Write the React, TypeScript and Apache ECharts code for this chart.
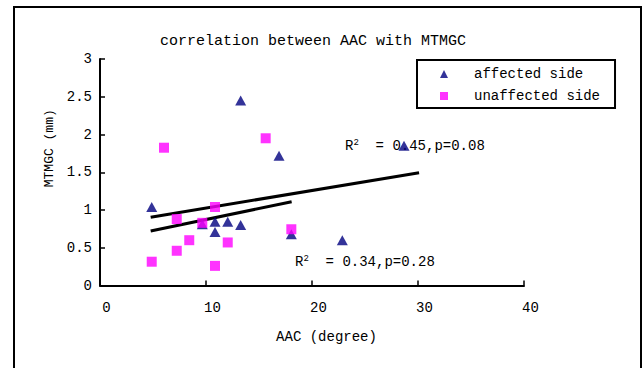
import React, { useEffect, useRef } from "react";
import * as echarts from "echarts";

const titleText = "correlation between AAC with MTMGC";
const xAxisName = "AAC (degree)";
const yAxisName = "MTMGC (mm)";
const seriesNames = ["affected side", "unaffected side"];

const affectedX = [4.88, 9.65, 10.85, 10.85, 12.05, 13.27, 13.27, 16.89, 18.05, 22.86, 28.68];
const affectedY = [1.04, 0.81, 0.845, 0.71, 0.845, 0.8, 2.45, 1.72, 0.68, 0.6, 1.85];
const unaffectedX = [6.04, 15.63, 10.85, 7.24, 9.65, 8.42, 7.24, 12.05, 4.88, 10.85, 18.05];
const unaffectedY = [1.825, 1.95, 1.04, 0.88, 0.83, 0.6, 0.46, 0.57, 0.315, 0.26, 0.745];

// regression line end points
const affectedFitX = [4.78, 30.1];
const affectedFitY = [0.903, 1.494];
const unaffectedFitX = [4.78, 18.08];
const unaffectedFitY = [0.722, 1.11];

const statR2 = ["0.45", "0.34"];
const statP = ["0.08", "0.28"];

const xMin = 0, xMax = 40, xInterval = 10;
const yMin = 0, yMax = 3, yInterval = 0.5;

const FONT = "'Liberation Mono', 'DejaVu Sans Mono', monospace";

const zip = (xs: number[], ys: number[]) => xs.map((x, i) => [x, ys[i]]);

const annotation = (i: number, x: number, y: number) => ({
  type: "text",
  x,
  y,
  z: 0,
  style: {
    text: `{r|R}{s|2}{r|  = ${statR2[i]},p=${statP[i]}}`,
    verticalAlign: "middle",
    align: "left",
    fill: "#000",
    rich: {
      r: { fontFamily: FONT, fontSize: 14, fill: "#000", lineHeight: 16 },
      s: { fontFamily: FONT, fontSize: 9, fill: "#000", verticalAlign: "top", lineHeight: 16 },
    },
  },
});

export default function App() {
  const ref = useRef<HTMLDivElement>(null);
  useEffect(() => {
    if (!ref.current) return;
    const chart = echarts.init(ref.current, null, { renderer: "svg" });
    chart.setOption({
      animation: false,
      backgroundColor: "#fff",
      title: {
        text: titleText,
        left: 160,
        top: 34,
        padding: 0,
        textStyle: { fontFamily: FONT, fontSize: 15, fontWeight: "normal", color: "#000" },
      },
      legend: {
        data: seriesNames,
        orient: "vertical",
        left: 417,
        top: 60,
        padding: [6, 15, 4, 23],
        itemGap: 6,
        itemWidth: 8,
        itemHeight: 8,
        borderColor: "#000",
        borderWidth: 2,
        backgroundColor: "#fff",
        selectedMode: false,
        textStyle: { fontFamily: FONT, fontSize: 14, color: "#000", lineHeight: 16, padding: [0, 0, 0, 21] },
      },
      grid: { left: 100, right: 120, top: 59, bottom: 82.5, containLabel: false },
      xAxis: {
        type: "value",
        min: xMin,
        max: xMax,
        interval: xInterval,
        name: xAxisName,
        nameLocation: "middle",
        nameGap: 44,
        nameTextStyle: { fontFamily: FONT, fontSize: 14, color: "#000", padding: [0, 0, 0, 29] },
        axisLine: { show: true, lineStyle: { color: "#000", width: 2 } },
        axisTick: { show: true, inside: true, length: 5, lineStyle: { color: "#000", width: 1.5 } },
        splitLine: { show: false },
        axisLabel: { fontFamily: FONT, fontSize: 14, color: "#000", margin: 15, padding: [0, 0, 0, 13] },
      },
      yAxis: {
        type: "value",
        min: yMin,
        max: yMax,
        interval: yInterval,
        name: yAxisName,
        nameLocation: "middle",
        nameGap: 43,
        nameTextStyle: { fontFamily: FONT, fontSize: 13, color: "#000", padding: [0, 0, 0, 48] },
        axisLine: { show: true, lineStyle: { color: "#000", width: 2 } },
        axisTick: { show: true, inside: true, length: 5, lineStyle: { color: "#000", width: 1.5 } },
        splitLine: { show: false },
        axisLabel: { fontFamily: FONT, fontSize: 14, color: "#000", margin: 8 },
      },
      graphic: [
        {
          type: "rect",
          z: -10,
          shape: { x: 14, y: 7, width: 627, height: 400 },
          style: { fill: "none", stroke: "#000", lineWidth: 2 },
        },
        annotation(0, 345, 146),
        annotation(1, 295, 262),
      ],
      series: [
        {
          name: "affected fit",
          type: "line",
          data: zip(affectedFitX, affectedFitY),
          symbol: "none",
          lineStyle: { color: "#000", width: 3 },
          z: 2,
          silent: true,
        },
        {
          name: "unaffected fit",
          type: "line",
          data: zip(unaffectedFitX, unaffectedFitY),
          symbol: "none",
          lineStyle: { color: "#000", width: 3 },
          z: 2,
          silent: true,
        },
        {
          name: seriesNames[0],
          type: "scatter",
          symbol: "triangle",
          symbolSize: [11, 10],
          itemStyle: { color: "#000080" },
          data: zip(affectedX, affectedY),
          z: 3,
        },
        {
          name: seriesNames[1],
          type: "scatter",
          symbol: "rect",
          symbolSize: 10,
          itemStyle: { color: "#FF00FF" },
          data: zip(unaffectedX, unaffectedY),
          z: 4,
        },
      ],
    });
    return () => chart.dispose();
  }, []);
  return <div ref={ref} style={{ position: "fixed", left: 0, top: 0, width: 644, height: 368 }} />;
}
